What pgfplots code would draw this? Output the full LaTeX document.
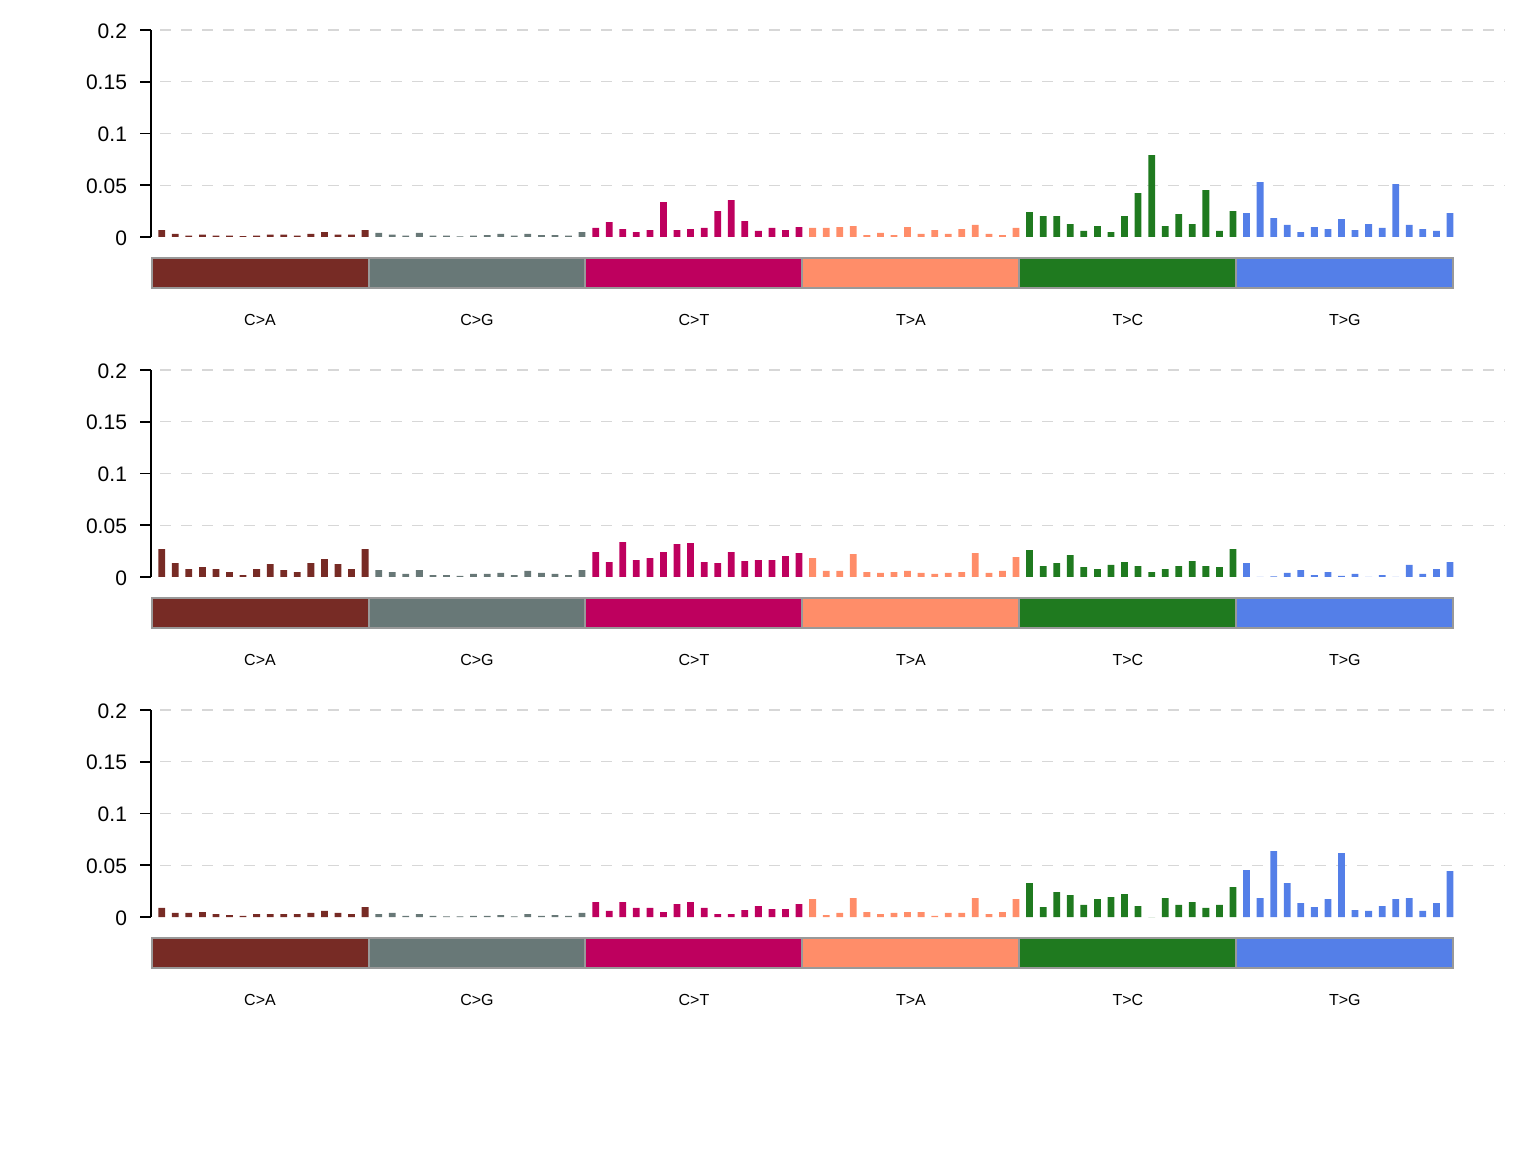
\documentclass[border=0pt]{standalone}
\usepackage{pgfplots}
\usepackage{pgfplotstable}
\usepackage{fontspec}
\setmainfont{Liberation Sans}
\pgfplotsset{compat=1.18}
\definecolor{cCA}{RGB}{119,43,37}
\definecolor{cCG}{RGB}{104,120,119}
\definecolor{cCT}{RGB}{190,0,94}
\definecolor{cTA}{RGB}{255,141,105}
\definecolor{cTC}{RGB}{31,122,31}
\definecolor{cTG}{RGB}{84,127,232}
\definecolor{gridc}{RGB}{215,215,215}
\definecolor{stripb}{RGB}{153,153,153}

\pgfplotstableread{
i ca cg ct ta tc tg
0 0.0067 0.0039 0.0087 0.0087 0.0241 0.0231
1 0.0029 0.0022 0.0144 0.0087 0.0202 0.0530
2 0.0013 0.0013 0.0077 0.0096 0.0202 0.0183
3 0.0022 0.0039 0.0048 0.0106 0.0125 0.0116
4 0.0013 0.0013 0.0067 0.0019 0.0058 0.0048
5 0.0013 0.0013 0.0337 0.0039 0.0106 0.0096
6 0.0008 0.0005 0.0067 0.0019 0.0048 0.0077
7 0.0013 0.0013 0.0077 0.0096 0.0202 0.0173
8 0.0022 0.0019 0.0087 0.0029 0.0424 0.0067
9 0.0022 0.0029 0.0250 0.0067 0.0790 0.0125
10 0.0013 0.0013 0.0356 0.0029 0.0106 0.0087
11 0.0029 0.0029 0.0154 0.0077 0.0222 0.0510
12 0.0048 0.0019 0.0058 0.0116 0.0125 0.0116
13 0.0022 0.0019 0.0087 0.0029 0.0453 0.0077
14 0.0022 0.0013 0.0067 0.0019 0.0058 0.0058
15 0.0067 0.0048 0.0096 0.0087 0.0250 0.0231
}\tabA

\pgfplotstableread{
i ca cg ct ta tc tg
0 0.0270 0.0067 0.0241 0.0183 0.0260 0.0135
1 0.0135 0.0048 0.0144 0.0058 0.0106 0
2 0.0077 0.0029 0.0337 0.0058 0.0135 0.0005
3 0.0096 0.0067 0.0164 0.0221 0.0212 0.0039
4 0.0077 0.0019 0.0183 0.0048 0.0096 0.0067
5 0.0048 0.0019 0.0241 0.0039 0.0077 0.0019
6 0.0019 0.0010 0.0318 0.0048 0.0116 0.0048
7 0.0077 0.0029 0.0327 0.0058 0.0144 0.0010
8 0.0125 0.0029 0.0144 0.0039 0.0106 0.0029
9 0.0067 0.0039 0.0135 0.0029 0.0048 0
10 0.0048 0.0019 0.0241 0.0039 0.0077 0.0019
11 0.0135 0.0058 0.0154 0.0048 0.0106 0
12 0.0173 0.0039 0.0164 0.0231 0.0154 0.0116
13 0.0125 0.0029 0.0164 0.0039 0.0106 0.0029
14 0.0077 0.0019 0.0202 0.0058 0.0096 0.0077
15 0.0270 0.0067 0.0231 0.0193 0.0270 0.0144
}\tabB

\pgfplotstableread{
i ca cg ct ta tc tg
0 0.0087 0.0029 0.0144 0.0173 0.0327 0.0453
1 0.0039 0.0039 0.0058 0.0019 0.0096 0.0183
2 0.0039 0.0010 0.0144 0.0039 0.0241 0.0636
3 0.0048 0.0029 0.0087 0.0183 0.0212 0.0327
4 0.0029 0.0010 0.0087 0.0048 0.0116 0.0135
5 0.0019 0.0005 0.0048 0.0029 0.0173 0.0096
6 0.0010 0.0005 0.0125 0.0039 0.0193 0.0173
7 0.0029 0.0010 0.0144 0.0048 0.0221 0.0617
8 0.0029 0.0010 0.0087 0.0048 0.0106 0.0067
9 0.0029 0.0019 0.0029 0.0010 0 0.0058
10 0.0029 0.0005 0.0029 0.0039 0.0183 0.0106
11 0.0039 0.0029 0.0067 0.0039 0.0116 0.0173
12 0.0058 0.0010 0.0106 0.0183 0.0144 0.0183
13 0.0039 0.0019 0.0077 0.0029 0.0087 0.0058
14 0.0029 0.0010 0.0077 0.0048 0.0116 0.0135
15 0.0096 0.0039 0.0125 0.0173 0.0289 0.0443
}\tabC

\newcommand{\strip}[3]{%
  \filldraw[fill=#1, draw=stripb, line width=1pt] (axis cs:#2-0.75,-0.0203) rectangle (axis cs:#2+15.25,-0.0493);
  \node[font=\fontsize{8}{9.5}\selectfont, anchor=center] at (axis cs:#2+7.25,-0.0802) {#3};
}
\newcommand{\gridl}[1]{%
  \draw[gridc, line width=0.6pt, dash pattern=on 5.5pt off 5pt] (axis cs:-0.1,#1) -- (axis cs:99.06,#1);
}
\newcommand{\panel}[2]{%
\begin{axis}[
  at={(75.5pt,#2)}, anchor=south west,
  scale only axis, width=677pt, height=103.5pt,
  xmin=-0.79, xmax=99.06, ymin=0, ymax=0.2,
  axis y line=left, axis x line=none,
  axis line style={-, black, line width=0.8pt},
  clip=false,
  ytick={0,0.05,0.1,0.15,0.2},
  yticklabels={0,0.05,0.1,0.15,0.2},
  yticklabel style={font=\fontsize{10.5}{12}\selectfont, xshift=-3pt, yshift=-0.4pt},
  /pgf/number format/assume math mode=true,
  tick align=outside, major tick length=5.5pt,
  ytick style={black, line width=0.8pt},
  xtick=\empty,
]
\gridl{0.05}\gridl{0.1}\gridl{0.15}\gridl{0.2}
\addplot[ybar, bar width=0.5, bar shift=0pt, fill=cCA, draw=none] table[x expr=\thisrow{i}, y=ca]{#1};
\addplot[ybar, bar width=0.5, bar shift=0pt, fill=cCG, draw=none] table[x expr=\thisrow{i}+16, y=cg]{#1};
\addplot[ybar, bar width=0.5, bar shift=0pt, fill=cCT, draw=none] table[x expr=\thisrow{i}+32, y=ct]{#1};
\addplot[ybar, bar width=0.5, bar shift=0pt, fill=cTA, draw=none] table[x expr=\thisrow{i}+48, y=ta]{#1};
\addplot[ybar, bar width=0.5, bar shift=0pt, fill=cTC, draw=none] table[x expr=\thisrow{i}+64, y=tc]{#1};
\addplot[ybar, bar width=0.5, bar shift=0pt, fill=cTG, draw=none] table[x expr=\thisrow{i}+80, y=tg]{#1};
\strip{cCA}{0}{C>A}
\strip{cCG}{16}{C>G}
\strip{cCT}{32}{C>T}
\strip{cTA}{48}{T>A}
\strip{cTC}{64}{T>C}
\strip{cTG}{80}{T>G}
\end{axis}
}

\begin{document}
\begin{tikzpicture}
\useasboundingbox (0,0) rectangle (768pt,576pt);
\panel{\tabA}{457.5pt}
\panel{\tabB}{287.5pt}
\panel{\tabC}{117.5pt}
\end{tikzpicture}
\end{document}
